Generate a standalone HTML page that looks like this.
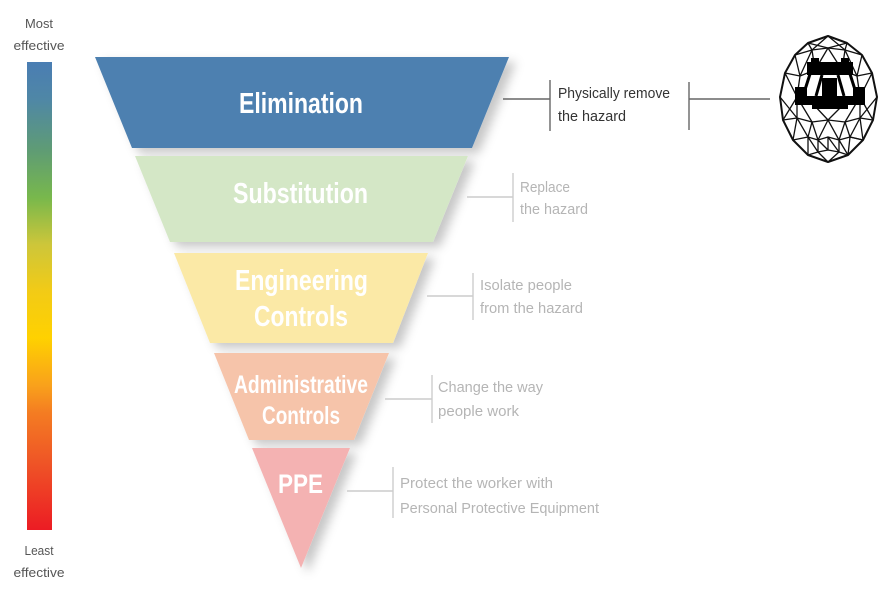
<!DOCTYPE html>
<html><head><meta charset="utf-8"><style>
html,body{margin:0;padding:0;background:#fff;width:890px;height:600px;overflow:hidden}
svg{display:block}
text{font-family:"Liberation Sans",Arial,sans-serif}
</style></head><body>
<svg width="890" height="600" viewBox="0 0 890 600" xmlns="http://www.w3.org/2000/svg">
<defs>
<linearGradient id="g" x1="0" y1="0" x2="0" y2="1">
<stop offset="0" stop-color="#4a7db3"/>
<stop offset="0.08" stop-color="#4f87a6"/>
<stop offset="0.19" stop-color="#5f9c74"/>
<stop offset="0.29" stop-color="#78b84c"/>
<stop offset="0.39" stop-color="#cdc63a"/>
<stop offset="0.49" stop-color="#f2cb16"/>
<stop offset="0.59" stop-color="#ffd100"/>
<stop offset="0.69" stop-color="#f9a21b"/>
<stop offset="0.75" stop-color="#f47c22"/>
<stop offset="0.85" stop-color="#ef5726"/>
<stop offset="1" stop-color="#ec1c24"/>
</linearGradient>
<filter id="sh" x="-20%" y="-20%" width="150%" height="150%">
<feDropShadow dx="7" dy="5" stdDeviation="5" flood-color="#000" flood-opacity="0.22"/>
</filter>
</defs>

<!-- effectiveness bar -->
<text x="39" y="28" font-size="13" fill="#555" text-anchor="middle" textLength="28" lengthAdjust="spacingAndGlyphs">Most</text>
<text x="39" y="50" font-size="13" fill="#555" text-anchor="middle" textLength="51" lengthAdjust="spacingAndGlyphs">effective</text>
<rect x="27" y="62" width="25" height="468" fill="url(#g)"/>
<text x="39" y="555" font-size="13" fill="#555" text-anchor="middle" textLength="29" lengthAdjust="spacingAndGlyphs">Least</text>
<text x="39" y="577" font-size="13" fill="#555" text-anchor="middle" textLength="51" lengthAdjust="spacingAndGlyphs">effective</text>

<!-- pyramid -->
<g filter="url(#sh)">
<polygon points="95,57 509,57 472,148 132,148" fill="#4e80b0"/>
<polygon points="135,156 468,156 433,242 170,242" fill="#d4e7c6"/>
<polygon points="174,253 428,253 393,343 210,343" fill="#fbe9a6"/>
<polygon points="214,353 389,353 354,440 249,440" fill="#f6c4aa"/>
<polygon points="252,448 350,448 301,568" fill="#f4b2b2"/>
</g>

<g fill="#fff" font-weight="bold">
<text x="239" y="113" font-size="29" textLength="124" lengthAdjust="spacingAndGlyphs">Elimination</text>
<text x="233" y="203" font-size="29" textLength="135" lengthAdjust="spacingAndGlyphs">Substitution</text>
<text x="235" y="290" font-size="29" textLength="133" lengthAdjust="spacingAndGlyphs">Engineering</text>
<text x="254" y="326" font-size="29" textLength="94" lengthAdjust="spacingAndGlyphs">Controls</text>
<text x="234" y="393" font-size="25" textLength="134" lengthAdjust="spacingAndGlyphs">Administrative</text>
<text x="262" y="424" font-size="25" textLength="78" lengthAdjust="spacingAndGlyphs">Controls</text>
<text x="278" y="493" font-size="27" textLength="45" lengthAdjust="spacingAndGlyphs">PPE</text>
</g>

<!-- connectors -->
<g stroke="#666" stroke-width="1.4" fill="none">
<line x1="503" y1="99" x2="550" y2="99"/>
<line x1="550" y1="80" x2="550" y2="131"/>
<line x1="689" y1="82" x2="689" y2="130"/>
<line x1="689" y1="99" x2="770" y2="99"/>
</g>
<g stroke="#cccccc" stroke-width="1.4" fill="none">
<line x1="467" y1="197" x2="513" y2="197"/>
<line x1="513" y1="173" x2="513" y2="222"/>
<line x1="427" y1="296" x2="473" y2="296"/>
<line x1="473" y1="273" x2="473" y2="320"/>
<line x1="385" y1="399" x2="432" y2="399"/>
<line x1="432" y1="375" x2="432" y2="423"/>
<line x1="347" y1="491" x2="393" y2="491"/>
<line x1="393" y1="467" x2="393" y2="518"/>
</g>

<g font-size="15">
<text x="558" y="98" fill="#333" textLength="112" lengthAdjust="spacingAndGlyphs">Physically remove</text>
<text x="558" y="121" fill="#333" textLength="68" lengthAdjust="spacingAndGlyphs">the hazard</text>
<text x="520" y="192" fill="#b5b5b5" textLength="50" lengthAdjust="spacingAndGlyphs">Replace</text>
<text x="520" y="214" fill="#b5b5b5" textLength="68" lengthAdjust="spacingAndGlyphs">the hazard</text>
<text x="480" y="290" fill="#b5b5b5" textLength="92" lengthAdjust="spacingAndGlyphs">Isolate people</text>
<text x="480" y="313" fill="#b5b5b5" textLength="103" lengthAdjust="spacingAndGlyphs">from the hazard</text>
<text x="438" y="392" fill="#b5b5b5" textLength="105" lengthAdjust="spacingAndGlyphs">Change the way</text>
<text x="438" y="416" fill="#b5b5b5" textLength="81" lengthAdjust="spacingAndGlyphs">people work</text>
<text x="400" y="488" fill="#b5b5b5" textLength="153" lengthAdjust="spacingAndGlyphs">Protect the worker with</text>
<text x="400" y="513" fill="#b5b5b5" textLength="199" lengthAdjust="spacingAndGlyphs">Personal Protective Equipment</text>
</g>

<!-- drone cage -->
<g stroke="#111" stroke-width="1.3" fill="none" stroke-linejoin="round">
<polygon stroke-width="2" points="828,36 808,43 795,55 785,73 780,97 783,120 793,140 808,155 828,162 848,155 863,140 873,120 877,97 872,73 862,55 847,43"/>
<polyline points="808,43 828,48 847,43"/>
<polyline points="795,55 812,50 828,48 845,50 862,55"/>
<polyline points="785,73 800,76 815,70 828,68 842,70 857,76 872,73"/>
<polyline points="783,120 797,118 812,122 828,120 845,122 860,118 873,120"/>
<polyline points="793,140 808,137 818,140 828,137 839,140 850,137 863,140"/>
<polyline points="808,155 818,152 828,150 839,152 848,155"/>
<polyline points="828,36 812,50 808,43"/>
<polyline points="828,36 845,50 847,43"/>
<polyline points="795,55 800,76 812,50 815,70 828,48 842,70 845,50 857,76 862,55"/>
<polyline points="785,73 797,97 800,76"/>
<polyline points="872,73 860,97 857,76"/>
<polyline points="780,97 797,118 797,97 812,122"/>
<polyline points="877,97 860,118 860,97 845,122"/>
<polyline points="813,104 828,120 844,104"/>
<polyline points="783,120 793,140 797,118 808,137 812,122 818,140 828,120 839,140 845,122 850,137 860,118 863,140 873,120"/>
<polyline points="793,140 808,155 808,137 818,152 818,140 828,150 828,137 839,152 839,140 848,155 850,137 863,140"/>
<polyline points="808,155 828,162 848,155"/>
<polyline points="818,152 828,162 839,152"/>
<line x1="797" y1="97" x2="783" y2="120"/>
<line x1="860" y1="97" x2="873" y2="120"/>
</g>
<g fill="#000">
<rect x="807" y="62" width="46" height="13"/>
<rect x="811" y="58" width="8" height="5"/>
<rect x="841" y="58" width="8" height="5"/>
<rect x="822" y="78" width="15" height="19"/>
<rect x="795" y="96" width="70" height="9"/>
<rect x="795" y="87" width="12" height="18"/>
<rect x="853" y="87" width="12" height="18"/>
<rect x="812" y="104" width="36" height="5"/>
</g>
<g stroke="#000" stroke-width="3" fill="none">
<line x1="810" y1="74" x2="803" y2="96"/>
<line x1="850" y1="74" x2="857" y2="96"/>
<line x1="822" y1="75" x2="816" y2="96"/>
<line x1="838" y1="75" x2="844" y2="96"/>
</g>
</svg>
</body></html>
